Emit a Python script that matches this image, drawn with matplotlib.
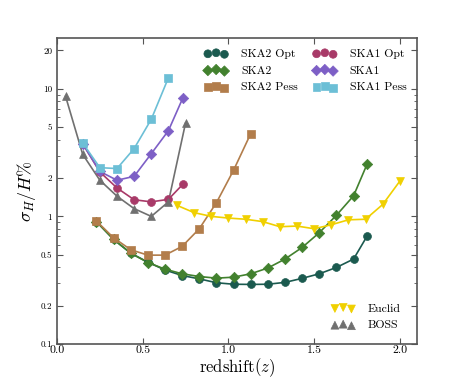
import matplotlib
matplotlib.use("Agg")
import matplotlib.pyplot as plt
import numpy as np

plt.rcParams['font.family'] = 'serif'
plt.rcParams['font.serif'] = ['cmr10', 'DejaVu Serif']
plt.rcParams['mathtext.fontset'] = 'cm'
plt.rcParams['axes.formatter.use_mathtext'] = True

# data
z_ska2 = [0.23, 0.33, 0.43, 0.53, 0.63, 0.73, 0.83, 0.93, 1.03, 1.13, 1.23, 1.33, 1.43, 1.53, 1.63, 1.73, 1.81]
ska2_opt = [0.91, 0.66, 0.515, 0.438, 0.38, 0.344, 0.324, 0.302, 0.294, 0.293, 0.294, 0.304, 0.327, 0.355, 0.398, 0.463, 0.705]
ska2 = [0.91, 0.66, 0.515, 0.435, 0.386, 0.355, 0.338, 0.328, 0.334, 0.355, 0.394, 0.463, 0.571, 0.745, 1.02, 1.45, 2.59]
z_ska2_pess = [0.23, 0.33, 0.43, 0.53, 0.63, 0.73, 0.83, 0.93, 1.03, 1.13]
ska2_pess = [0.92, 0.68, 0.548, 0.497, 0.497, 0.582, 0.80, 1.28, 2.30, 4.45]

z_ska1 = [0.15, 0.25, 0.35, 0.45, 0.55, 0.65, 0.735]
ska1_opt = [3.71, 2.23, 1.67, 1.35, 1.30, 1.36, 1.79]
ska1 = [3.71, 2.25, 1.92, 2.06, 3.10, 4.70, 8.53]
z_ska1_pess = [0.15, 0.25, 0.35, 0.45, 0.55, 0.65]
ska1_pess = [3.76, 2.41, 2.37, 3.40, 5.77, 12.2]

z_euclid = [0.7, 0.8, 0.9, 1.0, 1.1, 1.2, 1.3, 1.4, 1.5, 1.6, 1.7, 1.8, 1.9, 2.0]
euclid = [1.22, 1.07, 1.0, 0.97, 0.95, 0.91, 0.83, 0.84, 0.80, 0.86, 0.94, 0.95, 1.24, 1.89]
z_boss = [0.05, 0.15, 0.25, 0.35, 0.45, 0.55, 0.65, 0.75]
boss = [8.73, 3.06, 1.92, 1.44, 1.15, 1.0, 1.30, 5.40]

fig = plt.figure(figsize=(4.63, 3.82), dpi=100)
ax = fig.add_axes([57 / 463, 1 - 344 / 382, 360 / 463, 306 / 382])

def curve(x, y, c, m, lab, s=32):
    ax.plot(x, y, '-', color=c, lw=1.2, zorder=2)
    return ax.scatter(x, y, color=c, marker=m, s=s, label=lab, zorder=3, edgecolors=c, linewidths=0.5)

h1 = curve(z_ska2, ska2_opt, '#1b5a4f', 'o', 'SKA2 Opt')
h2 = curve(z_ska2, ska2, '#42812e', 'D', 'SKA2', s=28)
h3 = curve(z_ska2_pess, ska2_pess, '#b27d4b', 's', 'SKA2 Pess')
h4 = curve(z_ska1, ska1_opt, '#a83a68', 'o', 'SKA1 Opt')
h5 = curve(z_ska1, ska1, '#7d5fc6', 'D', 'SKA1', s=28)
h6 = curve(z_ska1_pess, ska1_pess, '#6cbfd6', 's', 'SKA1 Pess')
h7 = curve(z_euclid, euclid, '#f0d000', 'v', 'Euclid')
h8 = curve(z_boss, boss, '#707070', '^', 'BOSS')

ax.set_yscale('log')
ax.set_xlim(0, 2.1)
ax.set_ylim(0.1, 25)
yt = [0.1, 0.2, 0.5, 1, 2, 5, 10, 20]
ax.set_yticks(yt)
ax.set_yticklabels(['0.1', '0.2', '0.5', '1', '2', '5', '10', '20'], fontsize=6.5)
ax.set_xticks([0.0, 0.5, 1.0, 1.5, 2.0])
ax.set_xticklabels(['0.0', '0.5', '1.0', '1.5', '2.0'], fontsize=8.5)
ax.tick_params(which='both', direction='in', top=True, right=True, color='#555555')
ax.tick_params(which='major', length=4, width=0.8)
ax.tick_params(which='minor', length=2, width=0.6)
ax.tick_params(axis='x', pad=1)
for sp in ax.spines.values():
    sp.set_color('#555555')
    sp.set_linewidth(1.2)

ax.set_xlabel(r'redshift$(z)$', fontsize=12, labelpad=1)
ax.set_ylabel(r'$\sigma_H/H\%$', fontsize=13, labelpad=2)

leg1 = ax.legend(handles=[h1, h2, h3, h4, h5, h6], loc='upper right', ncol=2, frameon=False,
                 fontsize=8.5, scatterpoints=3, handlelength=2.0,
                 handletextpad=1.1, columnspacing=1.3, labelspacing=0.55,
                 bbox_to_anchor=(1.0, 1.0))
ax.add_artist(leg1)
ax.legend(handles=[h7, h8], loc='lower right', frameon=False, fontsize=8.5, scatterpoints=3,
          handlelength=2.0, handletextpad=1.1, labelspacing=0.55,
          bbox_to_anchor=(0.985, 0.01))

fig.savefig('out.png', dpi=100)
